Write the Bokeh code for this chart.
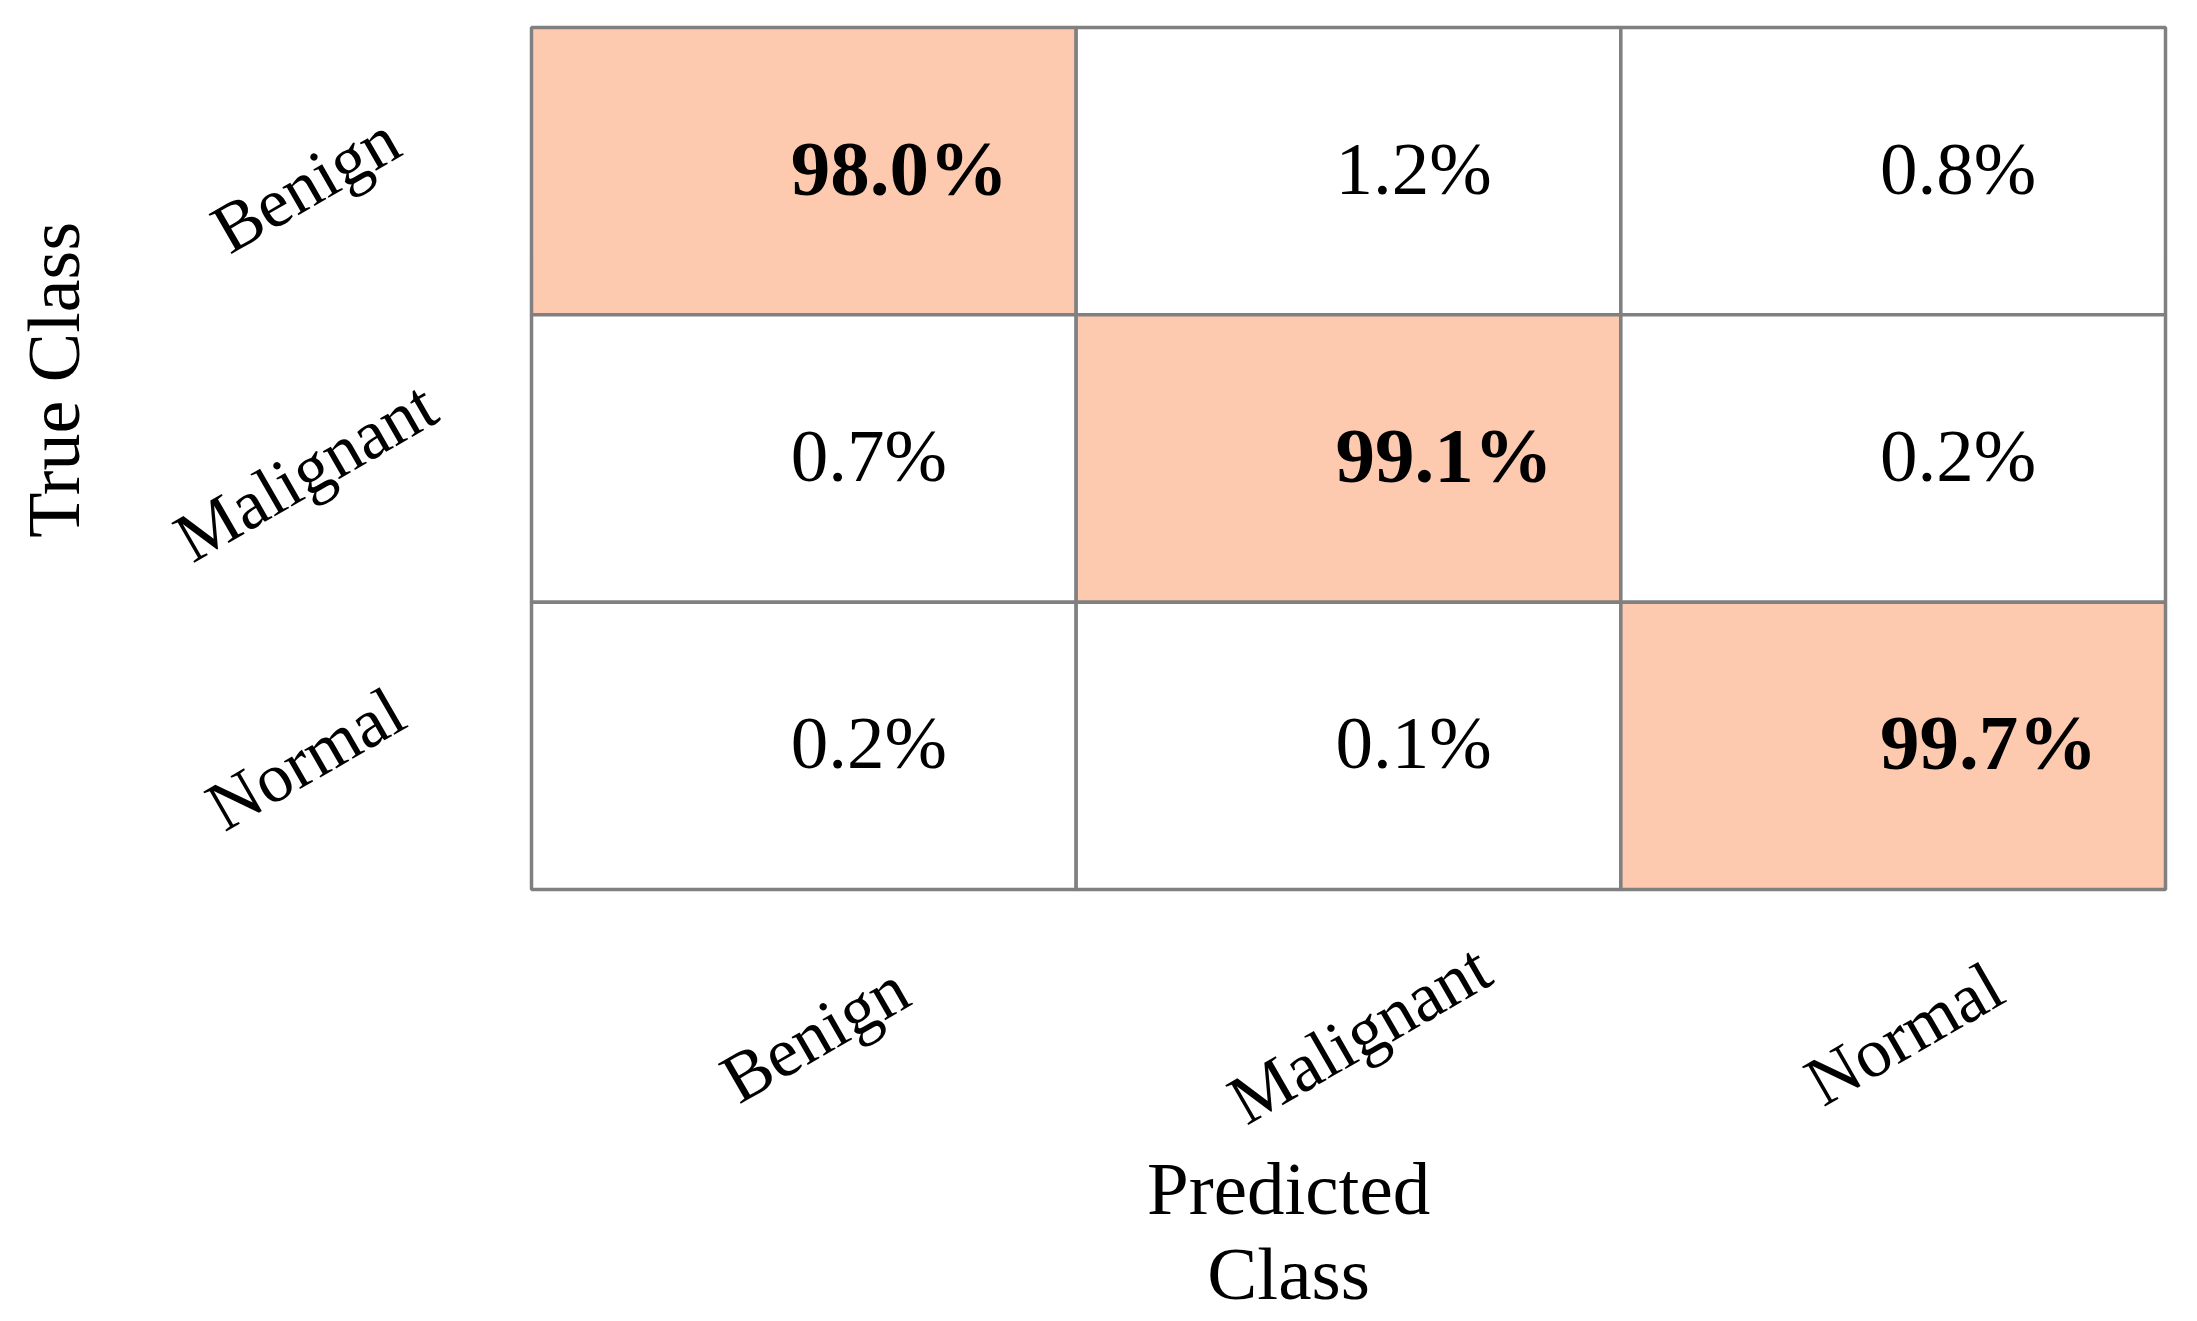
import math
from bokeh.plotting import figure
from bokeh.models import Range1d, ColumnDataSource
from bokeh.core.properties import value
from bokeh.embed import file_html
from bokeh.resources import INLINE

# ---- data ----
classes = ["Benign", "Malignant", "Normal"]
row_benign = [98.0, 1.2, 0.8]
row_malignant = [0.7, 99.1, 0.2]
row_normal = [0.2, 0.1, 99.7]
matrix = [row_benign, row_malignant, row_normal]
x_title = ["Predicted", "Class"]
y_title = "True Class"

# ---- layout constants ----
W, H = 2190, 1321
grid_left_px, grid_right_px = 531, 2165
grid_top_px, grid_bottom_px = 27, 889
col_px = (grid_right_px - grid_left_px) / 3
row_px = (grid_bottom_px - grid_top_px) / 3

x0 = -grid_left_px / col_px
x1 = (W - grid_left_px) / col_px
y1 = 3 + grid_top_px / row_px
y0 = -(H - grid_bottom_px) / row_px

FONT = value("Liberation Serif")
PEACH = "#FDCAB0"
GRAY = "#808080"

p = figure(width=W, height=H, output_backend="svg", toolbar_location=None,
           x_range=Range1d(x0, x1), y_range=Range1d(y0, y1),
           x_axis_location=None, y_axis_location=None,
           min_border=0, min_border_left=0, min_border_right=0,
           min_border_top=0, min_border_bottom=0)
p.outline_line_color = None
p.grid.visible = False
p.background_fill_color = "white"
p.border_fill_color = "white"

n = len(classes)
xs, ys, fills, txt, weights, sizes = [], [], [], [], [], []
for i, row in enumerate(matrix):
    for j, v in enumerate(row):
        xs.append(j + 0.5)
        ys.append(n - 1 - i + 0.5)
        fills.append(PEACH if i == j else "white")
        txt.append(f"{v:.1f}%")
        weights.append("bold" if i == j else "normal")
        sizes.append("79px" if i == j else "75px")

cells = ColumnDataSource(dict(x=xs, y=ys, fill=fills, text=txt, weight=weights,
                              size=sizes,
                              tx=[x - 0.5 + 0.476 for x in xs],
                              ty=[y + 3 / row_px for y in ys]))
p.rect(x="x", y="y", width=1, height=1, source=cells, fill_color="fill",
       line_color=GRAY, line_width=3.5)
p.text(x="tx", y="ty", text="text", source=cells, text_font=FONT,
       text_font_size="size", text_font_style="weight", text_color="black",
       text_align="left", text_baseline="alphabetic")

ang = math.radians(30)
# predicted-class tick labels
p.text(x=[j + 0.5 + 0.02 for j in range(n)], y=[-0.502] * n, text=classes,
       angle=ang, text_font=FONT, text_font_size="70px", text_color="black",
       text_align="center", text_baseline="middle")
# true-class tick labels
p.text(x=[-0.415] * n, y=[n - 1 - i + 0.5 - 0.045 for i in range(n)], text=classes,
       angle=ang, text_font=FONT, text_font_size="70px", text_color="black",
       text_align="center", text_baseline="middle")

# axis titles
p.text(x=[1.5 - 0.11] * 2, y=[-1.040, -1.336], text=x_title, text_font=FONT,
       text_font_size="75px", text_color="black", text_align="center",
       text_baseline="alphabetic")
p.text(x=[-0.876], y=[1.774], text=[y_title], angle=math.pi / 2, text_font=FONT,
       text_font_size="74px", text_color="black", text_align="center",
       text_baseline="alphabetic")

open("out.html", "w").write(file_html(p, INLINE))
